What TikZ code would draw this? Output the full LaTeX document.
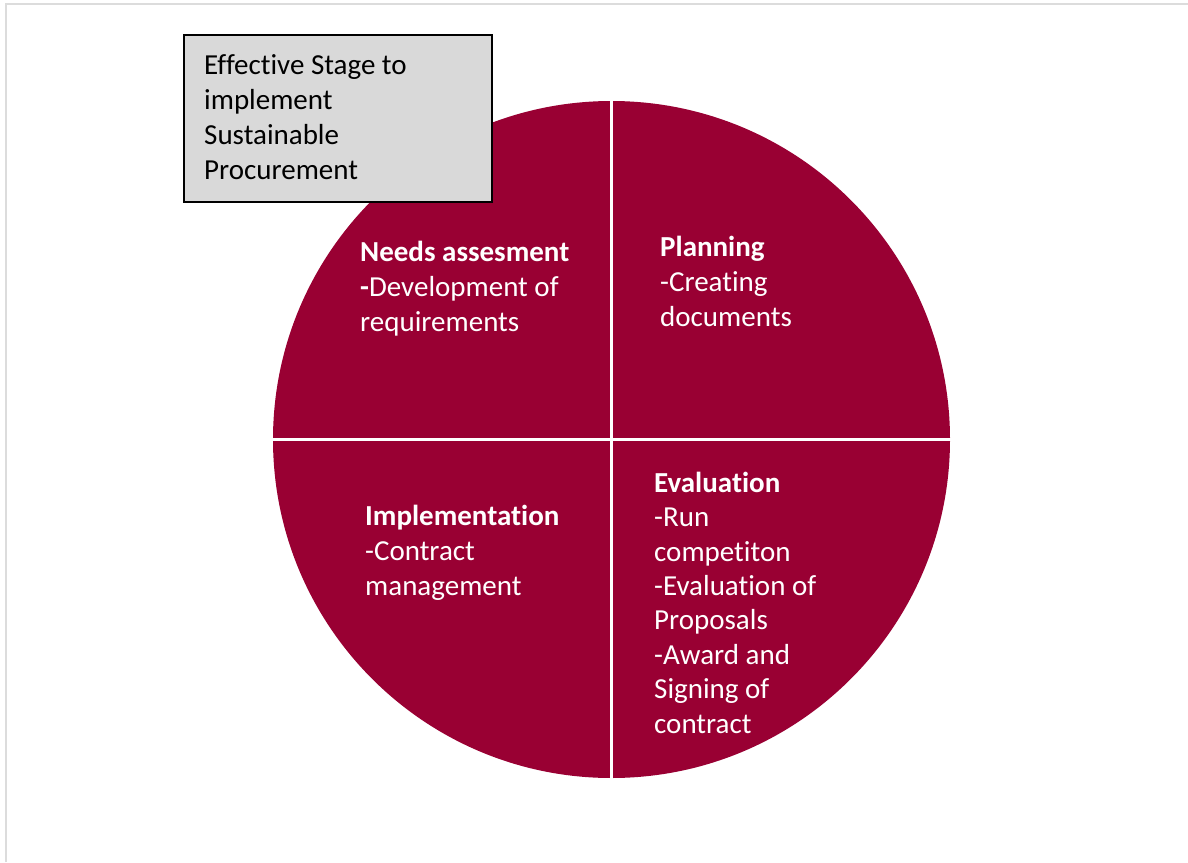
\documentclass[tikz,border=0pt]{standalone}
\usepackage{fontspec}
\setmainfont{Carlito}[Ligatures={NoCommon}]
\usetikzlibrary{calc}
\definecolor{wine}{RGB}{153,0,51}
\definecolor{boxgray}{RGB}{217,217,217}
\definecolor{framegray}{RGB}{220,220,220}
\tikzset{
  % anchored at the baseline of the last line
  label/.style={anchor=base west, inner sep=0pt, align=left, text=white,
    font=\fontsize{29}{35}\selectfont},
  titlebox/.style={fill=boxgray, draw=black, line width=2pt}
}
\begin{document}
\begin{tikzpicture}[x=1pt, y=-1pt]
  \useasboundingbox (0,0) rectangle (1188,862);
  % page frame
  \draw[framegray, line width=2pt] (6,862) -- (6,4) -- (1188,4);
  % circle split into four quarters
  \coordinate (c) at (611.5,439.5);
  \def\R{338.5}
  \fill[wine] (c) circle[radius=\R];
  \draw[white, line width=3pt] ($(c)+(0,-\R-2)$) -- ($(c)+(0,\R+2)$);
  \draw[white, line width=3pt] ($(c)+(-\R-2,0)$) -- ($(c)+(\R+2,0)$);
  % quarter texts
  \node[label] (needs) at (360,331.5)
    {\textbf{Needs assesment}\\\textbf{-}Development of\\requirements};
  \node[label] (plan) at (660,326.5)
    {\textbf{Planning}\\-Creating\\documents};
  \node[label] (impl) at (365,595.5)
    {\textbf{Implementation}\\-Contract\\management};
  \node[label, font=\fontsize{29}{34.4}\selectfont] (eval) at (654,733)
    {\textbf{Evaluation}\\-Run\\competiton\\-Evaluation of\\Proposals\\-Award and\\Signing of\\contract};
  % title box
  \draw[titlebox] (184,35) rectangle (492,202);
  \node[label, text=black] (title) at (204,179)
    {Effective Stage to\\implement\\Sustainable\\Procurement};
\end{tikzpicture}
\end{document}
